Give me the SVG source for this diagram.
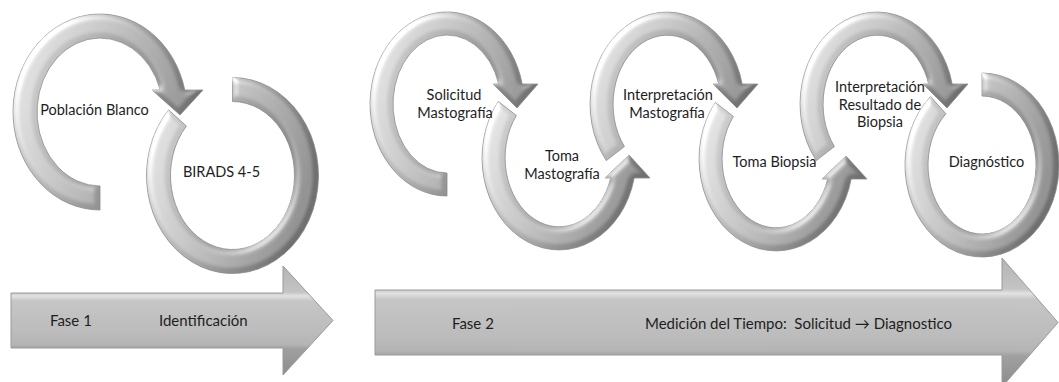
<svg xmlns="http://www.w3.org/2000/svg" width="1059" height="382" viewBox="0 0 1059 382">
<defs>
<linearGradient id="ringG" x1="0" y1="0" x2="1" y2="0.35">
<stop offset="0" stop-color="#dcdcdc"/>
<stop offset="0.45" stop-color="#b2b2b2"/>
<stop offset="1" stop-color="#707070"/>
</linearGradient>
<linearGradient id="arrowG" x1="0" y1="0" x2="0" y2="1">
<stop offset="0" stop-color="#b4b4b4"/>
<stop offset="0.24" stop-color="#c4c4c4"/>
<stop offset="0.275" stop-color="#e2e2e2"/>
<stop offset="0.32" stop-color="#c6c6c6"/>
<stop offset="0.6" stop-color="#bcbcbc"/>
<stop offset="0.72" stop-color="#b4b4b4"/>
<stop offset="0.76" stop-color="#a0a0a0"/>
<stop offset="1" stop-color="#8c8c8c"/>
</linearGradient>
<filter id="bevel" x="-5%" y="-5%" width="110%" height="110%">
<feGaussianBlur in="SourceAlpha" stdDeviation="3" result="b"/>
<feSpecularLighting in="b" surfaceScale="3" specularConstant="0.55" specularExponent="14" lighting-color="#ffffff" result="s">
<feDistantLight azimuth="225" elevation="40"/>
</feSpecularLighting>
<feComposite in="s" in2="SourceAlpha" operator="in" result="s2"/>
<feComposite in="SourceGraphic" in2="s2" operator="arithmetic" k1="0" k2="1" k3="1" k4="0"/>
</filter>
</defs>
<style>
.ring{fill:url(#ringG);stroke:#8a8a8a;stroke-width:0.8;filter:url(#bevel)}
.arr{fill:url(#arrowG);stroke:#9a9a9a;stroke-width:1}
text{font-family:Lato,"Liberation Sans",sans-serif;font-size:14.5px;fill:#1e1e1e}
.c{text-anchor:middle}
.f{font-size:15px}
</style>
<g id="fase1-rings">
<g id="birads">
<path class="ring" transform="translate(232.5,175.5)" d="M0,-98 A86 98 0 1 1 -63.9,-65.6 L-46.1,-49.5 A62 74 0 1 0 0,-74 Z"/>
<text class="c" x="221.5" y="177">BIRADS 4-5</text>
</g>
<g id="poblacion">
<path class="ring" transform="translate(100,112)" d="M0,98 A87 98 0 1 1 84.8,-22 L103,-22 L80,3 L52,-22 L60.2,-22 A63 74 0 1 0 0,74 Z"/>
<text class="c" x="94.5" y="115">Población Blanco</text>
</g>
</g>
<g id="fase2-rings">
<g id="diagnostico">
<path class="ring" transform="translate(982,165)" d="M0,-92 A77 92 0 1 1 -51.5,-68.4 L-36.1,-51.3 A54 69 0 1 0 0,-69 Z"/>
<text class="c" x="986.5" y="167">Diagnóstico</text>
</g>
<g id="interp-biopsia">
<path class="ring" transform="translate(877,104)" d="M-60.7,56.6 A77 92 0 1 1 75.2,-20 L91,-20 L70,4 L46,-20 L51.7,-20 A54 69 0 1 0 -42.6,42.5 Z"/>
<text class="c" x="880" y="92">Interpretación</text>
<text class="c" x="880" y="110">Resultado de</text>
<text class="c" x="880" y="127">Biopsia</text>
</g>
<g id="toma-biopsia">
<path class="ring" transform="translate(776,159)" d="M-60.7,-56.6 A77 92 0 1 0 75.2,20 L91,20 L70,-3 L46,20 L51.7,20 A54 69 0 1 1 -42.6,-42.5 Z"/>
<text class="c" x="774.5" y="167">Toma Biopsia</text>
</g>
<g id="interp-masto">
<path class="ring" transform="translate(667,104)" d="M-60.7,56.6 A77 92 0 1 1 75.2,-20 L91,-20 L70,4 L46,-20 L51.7,-20 A54 69 0 1 0 -42.6,42.5 Z"/>
<text class="c" x="668" y="100">Interpretación</text>
<text class="c" x="667" y="118">Mastografía</text>
</g>
<g id="toma-masto">
<path class="ring" transform="translate(559,158)" d="M-60.7,-56.6 A77 92 0 1 0 75.2,20 L91,20 L70,-3 L46,20 L51.7,20 A54 69 0 1 1 -42.6,-42.5 Z"/>
<text class="c" x="562" y="161">Toma</text>
<text class="c" x="562" y="179">Mastografía</text>
</g>
<g id="solicitud">
<path class="ring" transform="translate(447,104)" d="M0,92 A77 92 0 1 1 75.2,-20 L91,-20 L70,4 L46,-20 L51.7,-20 A54 69 0 1 0 0,69 Z"/>
<text class="c" x="454" y="100">Solicitud</text>
<text class="c" x="455" y="118">Mastografía</text>
</g>
</g>
<g id="fase1">
<path class="arr" d="M11,293 L283,293 L283,266 L333,320.5 L283,375 L283,348 L11,348 Z"/>
<text class="f" x="50" y="326">Fase 1</text>
<text class="f" x="159" y="326">Identificación</text>
</g>
<g id="fase2">
<path class="arr" d="M375,290 L1002,290 L1002,258 L1058,322.5 L1002,387 L1002,355 L375,355 Z"/>
<text class="f" x="452" y="329">Fase 2</text>
<text class="f" x="645" y="329">Medición del Tiempo:&#160; Solicitud → Diagnostico</text>
</g>
<g id="connectors"/>
</svg>
